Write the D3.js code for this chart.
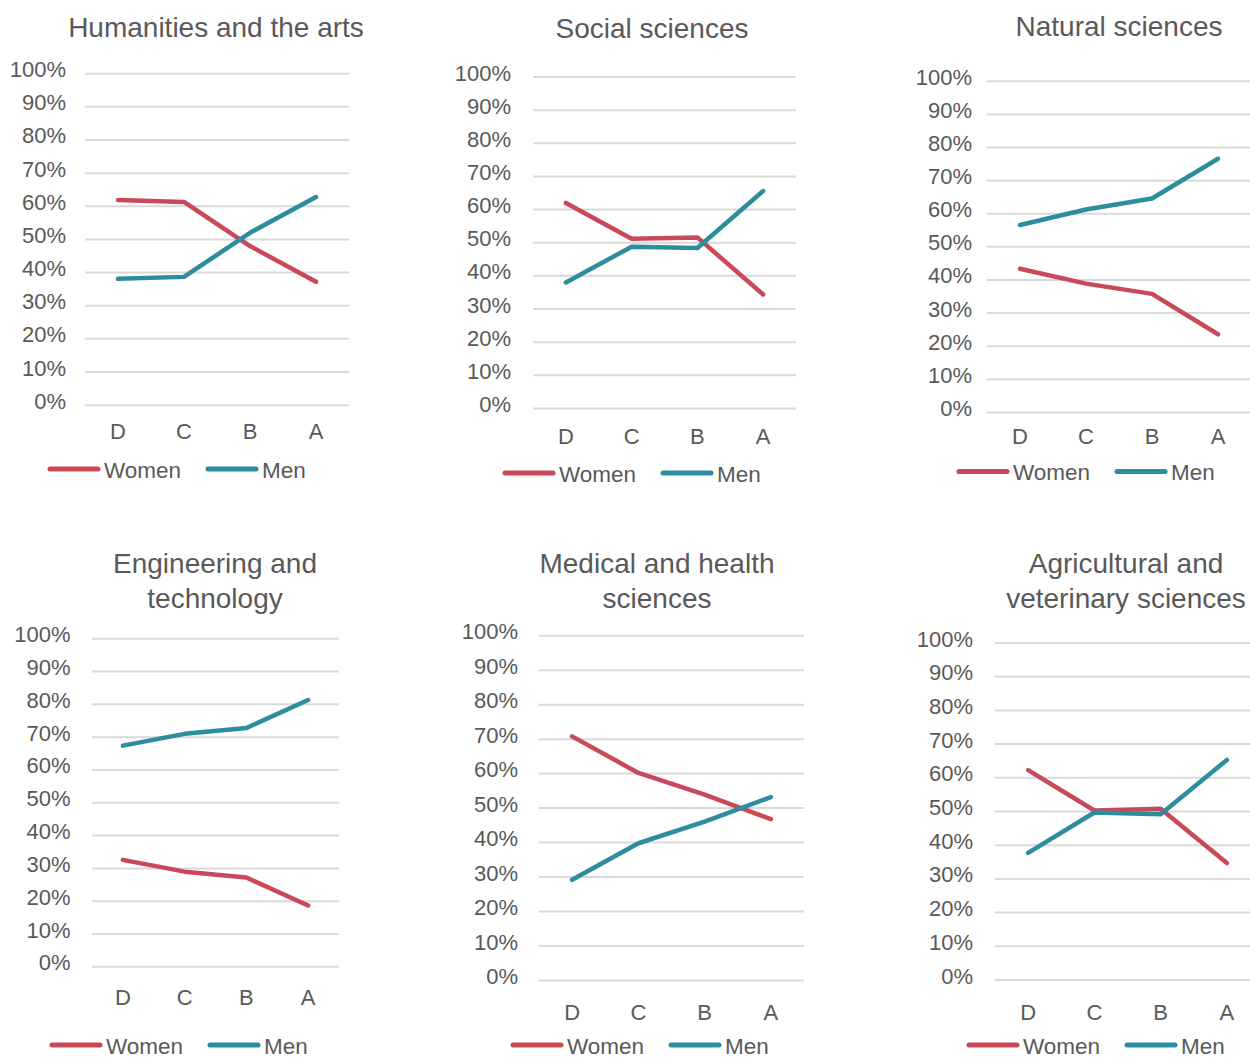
<!DOCTYPE html>
<html>
<head>
<meta charset="utf-8">
<script src="https://cdn.jsdelivr.net/npm/d3@7"></script>
<style>
  body { margin: 0; background: #fff; }
  text { font-family: "Liberation Sans", Arial, sans-serif; fill: #595959; }
</style>
</head>
<body>
<div id="chart"></div>
<script>
var width = 1250,
    height = 1057;

// data
var categories = ["D", "C", "B", "A"];
var yTicks = [0, 10, 20, 30, 40, 50, 60, 70, 80, 90, 100];
var seriesNames = ["Women", "Men"];
var titles = [
  ["Humanities and the arts"],
  ["Social sciences"],
  ["Natural sciences"],
  ["Engineering and", "technology"],
  ["Medical and health", "sciences"],
  ["Agricultural and", "veterinary sciences"]
];
var women = [
  [61.9, 61.3, 48.0, 37.2],
  [62.0, 51.2, 51.6, 34.4],
  [43.4, 38.9, 35.8, 23.6],
  [32.6, 29.0, 27.2, 18.7],
  [70.8, 60.2, 53.9, 46.8],
  [62.3, 50.3, 50.8, 34.7]
];
var men = [
  [38.1, 38.7, 52.0, 62.8],
  [38.0, 48.8, 48.4, 65.6],
  [56.6, 61.3, 64.6, 76.6],
  [67.4, 71.0, 72.8, 81.3],
  [29.2, 39.8, 46.1, 53.2],
  [37.7, 49.7, 49.2, 65.3]
];

var colors = ["#c9485a", "#2b8d9d"];

// panel layout (pixels)
var panels = [
  {left: 85,  right: 349,  top: 73.7,  y10: 372,   tickX: 66,  titleX: 216,  titleY: [27],       catY: 431,  legY: 469,  legX: 48},
  {left: 533, right: 796,  top: 77,    y10: 375.3, tickX: 511, titleX: 652,  titleY: [28],       catY: 436,  legY: 473,  legX: 503},
  {left: 987, right: 1251, top: 81.3,  y10: 379.3, tickX: 972, titleX: 1119, titleY: [26],       catY: 436,  legY: 471.5, legX: 957},
  {left: 92,  right: 339,  top: 638.7, y10: 934,   tickX: 70.5, titleX: 215, titleY: [563, 598], catY: 997,  legY: 1045, legX: 50},
  {left: 539, right: 804,  top: 635.7, y10: 946,   tickX: 518, titleX: 657,  titleY: [563, 598], catY: 1012, legY: 1045, legX: 511},
  {left: 995, right: 1260, top: 643,   y10: 946.3, tickX: 973, titleX: 1126, titleY: [563, 598], catY: 1012, legY: 1045, legX: 967}
];

var svg = d3.select("#chart").append("svg")
    .attr("width", width)
    .attr("height", height);

panels.forEach(function(p, i) {
  var g = svg.append("g");

  var y0 = p.y10 + (p.y10 - p.top) / 9;
  var y = d3.scaleLinear().domain([0, 100]).range([y0, p.top]);
  var x = d3.scaleBand().domain(categories).range([p.left, p.right]);

  // gridlines
  g.selectAll("line.grid")
    .data(yTicks)
    .enter().append("line")
    .attr("class", "grid")
    .attr("x1", p.left)
    .attr("x2", p.right)
    .attr("y1", function(d) { return y(d); })
    .attr("y2", function(d) { return y(d); })
    .attr("stroke", "#d9d9d9")
    .attr("stroke-width", 2);

  // y tick labels
  g.selectAll("text.ytick")
    .data(yTicks)
    .enter().append("text")
    .attr("class", "ytick")
    .attr("x", p.tickX)
    .attr("y", function(d) { return y(d) - 4; })
    .attr("text-anchor", "end")
    .attr("dominant-baseline", "central")
    .style("font-size", "22px")
    .text(function(d) { return d + "%"; });

  // category labels
  g.selectAll("text.xtick")
    .data(categories)
    .enter().append("text")
    .attr("class", "xtick")
    .attr("x", function(d) { return x(d) + x.bandwidth() / 2; })
    .attr("y", p.catY)
    .attr("text-anchor", "middle")
    .attr("dominant-baseline", "central")
    .style("font-size", "22px")
    .text(function(d) { return d; });

  // title
  titles[i].forEach(function(t, k) {
    g.append("text")
      .attr("x", p.titleX)
      .attr("y", p.titleY[k])
      .attr("text-anchor", "middle")
      .attr("dominant-baseline", "central")
      .style("font-size", "28px")
      .text(t);
  });

  var line = d3.line()
    .x(function(d, j) { return x(categories[j]) + x.bandwidth() / 2; })
    .y(function(d) { return y(d); });

  [women[i], men[i]].forEach(function(vals, s) {
    g.append("path")
      .datum(vals)
      .attr("d", line)
      .attr("fill", "none")
      .attr("stroke", colors[s])
      .attr("stroke-width", 4.5)
      .attr("stroke-linecap", "round")
      .attr("stroke-linejoin", "round");
  });

  // legend
  seriesNames.forEach(function(name, s) {
    var lx = p.legX + s * 158;
    g.append("line")
      .attr("x1", lx + 2)
      .attr("x2", lx + 50)
      .attr("y1", p.legY)
      .attr("y2", p.legY)
      .attr("stroke", colors[s])
      .attr("stroke-width", 5)
      .attr("stroke-linecap", "round");
    g.append("text")
      .attr("x", lx + 56)
      .attr("y", p.legY + 1)
      .attr("dominant-baseline", "central")
      .style("font-size", "22.5px")
      .text(name);
  });
});
</script>
</body>
</html>
